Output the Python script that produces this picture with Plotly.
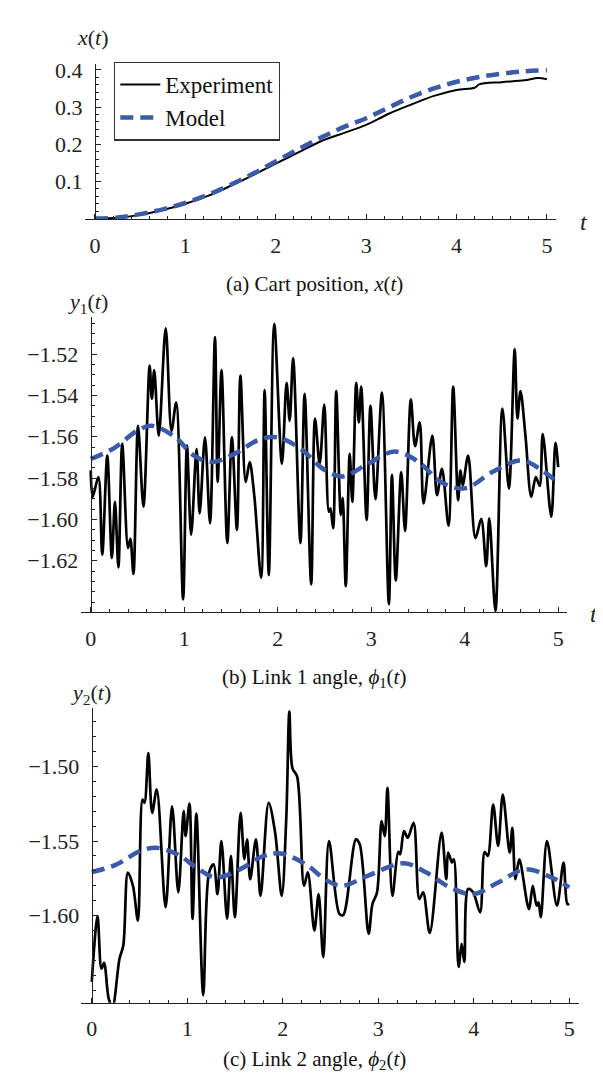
import plotly.graph_objects as go

# ---------------- data ----------------
# (a) cart position
t_a = [0, 0.25, 0.5, 0.75, 1.0, 1.25, 1.5, 1.75, 2.0, 2.25, 2.5, 2.75, 3.0,
       3.25, 3.5, 3.75, 4.0, 4.2, 4.25, 4.5, 4.75, 4.9, 5.0]
exp_a = [0.000, 0.002, 0.010, 0.023, 0.040, 0.061, 0.088, 0.117, 0.148, 0.178,
         0.208, 0.230, 0.252, 0.282, 0.307, 0.330, 0.346, 0.352, 0.361, 0.367,
         0.372, 0.378, 0.375]
tm_a = [0, 0.25, 0.5, 0.75, 1.0, 1.25, 1.5, 1.75, 2.0, 2.25, 2.5, 2.75, 3.0,
        3.25, 3.5, 3.75, 4.0, 4.25, 4.5, 4.75, 5.0]
model_a = [0.000, 0.003, 0.012, 0.025, 0.042, 0.064, 0.091, 0.121, 0.154, 0.187,
           0.218, 0.246, 0.270, 0.299, 0.327, 0.350, 0.368, 0.381, 0.390, 0.396,
           0.399]

# (b) link 1 angle
t_b = [0.000, 0.021, 0.082, 0.123, 0.177, 0.226, 0.259, 0.296, 0.337, 0.399,
       0.424, 0.457, 0.506, 0.564, 0.630, 0.654, 0.679, 0.728, 0.802, 0.864,
       0.914, 0.988, 1.029, 1.074, 1.132, 1.165, 1.222, 1.276, 1.329, 1.358,
       1.399, 1.461, 1.510, 1.564, 1.601, 1.658, 1.700, 1.749, 1.823, 1.860,
       1.905, 1.963, 2.045, 2.095, 2.128, 2.165, 2.243, 2.288, 2.358, 2.399,
       2.449, 2.498, 2.547, 2.564, 2.593, 2.626, 2.675, 2.695, 2.728, 2.770,
       2.798, 2.840, 2.868, 2.893, 2.951, 2.992, 3.045, 3.115, 3.189, 3.222,
       3.263, 3.321, 3.362, 3.424, 3.469, 3.519, 3.560, 3.654, 3.704, 3.757,
       3.827, 3.877, 3.930, 3.955, 3.979, 4.037, 4.115, 4.177, 4.230, 4.263,
       4.329, 4.403, 4.473, 4.535, 4.564, 4.597, 4.650, 4.712, 4.761, 4.802,
       4.835, 4.926, 4.971, 5.000]
exp_b = [-1.5763, -1.5891, -1.5795, -1.6171, -1.5691, -1.6187, -1.5915, -1.6232,
         -1.5635, -1.6139, -1.6094, -1.6264, -1.5547, -1.5939, -1.5256, -1.5416,
         -1.5278, -1.5595, -1.5075, -1.5571, -1.5435, -1.6387, -1.5643, -1.6075,
         -1.5659, -1.5971, -1.5603, -1.6019, -1.5118, -1.5819, -1.5278, -1.6115,
         -1.5603, -1.6051, -1.5304, -1.5819, -1.5723, -1.5883, -1.6283, -1.5374,
         -1.6270, -1.5054, -1.5731, -1.5339, -1.5523, -1.5219, -1.6115, -1.5392,
         -1.6315, -1.5512, -1.5731, -1.5445, -1.5963, -1.5947, -1.6043, -1.5379,
         -1.5979, -1.5896, -1.6323, -1.5683, -1.5915, -1.5339, -1.5531, -1.5358,
         -1.6003, -1.5451, -1.5902, -1.5387, -1.6411, -1.5784, -1.6296, -1.5771,
         -1.6056, -1.5419, -1.5646, -1.5531, -1.5923, -1.5595, -1.5883, -1.5755,
         -1.6030, -1.5358, -1.5907, -1.5763, -1.5835, -1.5691, -1.6091, -1.5998,
         -1.6227, -1.5995, -1.6443, -1.5464, -1.5851, -1.5176, -1.5512, -1.5379,
         -1.5595, -1.5891, -1.5795, -1.5838, -1.5587, -1.5987, -1.5630, -1.5747]
tm_b = [0, 0.25, 0.5, 0.65, 0.9, 1.1, 1.3, 1.55, 1.8, 2.0, 2.25, 2.5, 2.7,
        2.95, 3.25, 3.5, 3.75, 4.0, 4.3, 4.6, 4.85, 5.0]
model_b = [-1.5708, -1.5655, -1.5570, -1.5547, -1.5600, -1.5690, -1.5722,
           -1.5680, -1.5615, -1.5603, -1.5660, -1.5760, -1.5792, -1.5735,
           -1.5672, -1.5720, -1.5820, -1.5850, -1.5770, -1.5715, -1.5770,
           -1.5824]

# (c) link 2 angle
t_c = [0.000, 0.060, 0.101, 0.129, 0.177, 0.217, 0.290, 0.330, 0.378, 0.431,
       0.483, 0.531, 0.552, 0.592, 0.632, 0.680, 0.773, 0.841, 0.906, 0.962,
       0.982, 1.023, 1.055, 1.095, 1.167, 1.228, 1.276, 1.316, 1.357, 1.417,
       1.457, 1.498, 1.558, 1.598, 1.626, 1.659, 1.719, 1.767, 1.852, 1.920,
       1.989, 2.037, 2.069, 2.101, 2.150, 2.222, 2.262, 2.331, 2.375, 2.424,
       2.484, 2.593, 2.633, 2.766, 2.806, 2.899, 2.939, 2.987, 3.035, 3.068,
       3.096, 3.148, 3.209, 3.229, 3.269, 3.309, 3.370, 3.430, 3.470, 3.539,
       3.663, 3.712, 3.732, 3.772, 3.792, 3.841, 3.873, 3.901, 3.941, 3.994,
       4.066, 4.114, 4.147, 4.203, 4.255, 4.304, 4.376, 4.404, 4.436, 4.477,
       4.577, 4.618, 4.658, 4.678, 4.702, 4.767, 4.871, 4.940, 4.980, 5.000]
exp_c = [-1.6444, -1.6004, -1.6356, -1.6316, -1.6556, -1.6611, -1.6289, -1.6200,
         -1.5711, -1.5800, -1.6033, -1.5222, -1.5244, -1.4911, -1.5311, -1.5156,
         -1.5944, -1.5267, -1.5844, -1.5300, -1.5467, -1.5249, -1.6022, -1.5316,
         -1.6533, -1.5711, -1.5656, -1.5856, -1.5500, -1.6022, -1.5600, -1.6011,
         -1.5311, -1.5622, -1.5489, -1.5756, -1.5489, -1.5867, -1.5244, -1.5444,
         -1.5867, -1.5340, -1.4633, -1.5011, -1.5067, -1.5800, -1.5710, -1.6100,
         -1.5856, -1.6278, -1.5500, -1.5989, -1.5996, -1.5489, -1.5522, -1.6122,
         -1.5922, -1.5844, -1.5367, -1.5467, -1.5144, -1.5867, -1.5573, -1.5589,
         -1.5433, -1.5478, -1.5378, -1.5889, -1.5844, -1.6116, -1.5444, -1.5756,
         -1.5578, -1.5644, -1.5622, -1.6344, -1.6189, -1.6311, -1.5822, -1.5844,
         -1.5978, -1.5573, -1.5600, -1.5256, -1.5533, -1.5189, -1.5578, -1.5411,
         -1.5756, -1.5622, -1.5956, -1.5800, -1.5933, -1.5911, -1.6011, -1.5500,
         -1.5933, -1.5644, -1.5922, -1.5922]
tm_c = [0, 0.25, 0.5, 0.67, 0.9, 1.1, 1.3, 1.55, 1.8, 1.98, 2.25, 2.45, 2.62,
        2.9, 3.27, 3.5, 3.75, 3.99, 4.25, 4.54, 4.8, 5.0]
model_c = [-1.5708, -1.5660, -1.5570, -1.5545, -1.5590, -1.5680, -1.5744,
           -1.5690, -1.5600, -1.5584, -1.5660, -1.5760, -1.5800, -1.5730,
           -1.5649, -1.5710, -1.5810, -1.5856, -1.5780, -1.5689, -1.5740,
           -1.5811]

x_ticks = [0, 1, 2, 3, 4, 5]
x_ticktext = ["0", "1", "2", "3", "4", "5"]
ya_ticks = [0.1, 0.2, 0.3, 0.4]
ya_text = ["0.1", "0.2", "0.3", "0.4"]
yb_ticks = [-1.52, -1.54, -1.56, -1.58, -1.60, -1.62]
yb_text = ["\u22121.52", "\u22121.54", "\u22121.56", "\u22121.58", "\u22121.60", "\u22121.62"]
yc_ticks = [-1.50, -1.55, -1.60]
yc_text = ["\u22121.50", "\u22121.55", "\u22121.60"]

captions = ["(a) Cart position, <i>x</i>(<i>t</i>)",
            "(b) Link 1 angle, <i>\u03d5</i><sub>1</sub>(<i>t</i>)",
            "(c) Link 2 angle, <i>\u03d5</i><sub>2</sub>(<i>t</i>)"]
ylabels = ["<i>x</i>(<i>t</i>)", "<i>y</i><sub>1</sub>(<i>t</i>)",
           "<i>y</i><sub>2</sub>(<i>t</i>)"]

# ---------------- layout helpers ----------------
W, H = 603, 1074
FONT = "Liberation Serif, Times New Roman, serif"
EXP_COLOR = "#000000"
MOD_COLOR = "#3b5ba9"
AX_COLOR = "#222222"


def px(x):
    return x / W


def py(y):
    return 1 - y / H


# panel geometry in pixels: x-axis extent, y-axis x position, y extent
panels = [
    dict(x0=77, x1=548, yax=87.0, y0=50, y1=206.5, xr=[-0.11, 5.10],
         yr=[-0.002, 0.4166], ticks=ya_ticks, text=ya_text, minor=0.02),
    dict(x0=73, x1=558.5, yax=82.7, y0=305, y1=601.7, xr=[-0.104, 5.089],
         yr=[-1.6450, -1.5022], ticks=yb_ticks, text=yb_text, minor=0.005),
    dict(x0=73, x1=571, yax=83.8, y0=698.3, y1=994.3, xr=[-0.113, 5.102],
         yr=[-1.6584, -1.4611], ticks=yc_ticks, text=yc_text, minor=0.01),
]

fig = go.Figure()

series = [(t_a, exp_a, tm_a, model_a, 2.0),
          (t_b, exp_b, tm_b, model_b, 2.7),
          (t_c, exp_c, tm_c, model_c, 2.7)]

for i, (te, ye, tm, ym, lw) in enumerate(series):
    xa = "x" if i == 0 else f"x{i+1}"
    ya = "y" if i == 0 else f"y{i+1}"
    fig.add_trace(go.Scatter(x=te, y=ye, mode="lines", name="Experiment",
                             line=dict(color=EXP_COLOR, width=lw, shape="spline", smoothing=0.9),
                             showlegend=(i == 0), xaxis=xa, yaxis=ya))
    fig.add_trace(go.Scatter(x=tm, y=ym, mode="lines", name="Model",
                             line=dict(color=MOD_COLOR, width=4.5, dash="13px,7px",
                                       shape="spline", smoothing=1.0),
                             showlegend=(i == 0), xaxis=xa, yaxis=ya))

layout = dict(
    width=W, height=H, margin=dict(l=0, r=0, t=0, b=0),
    paper_bgcolor="white", plot_bgcolor="white",
    font=dict(family=FONT, size=22, color="#111"),
    showlegend=True,
    legend=dict(x=px(106), y=py(48), xanchor="left", yanchor="top",
                bgcolor="white", bordercolor="#333", borderwidth=1.3,
                font=dict(family=FONT, size=23, color="#111"),
                itemwidth=40, tracegroupgap=0),
)

annotations = []
caption_y = [272, 668, 1052]
label_pos = [(85, 24), (80, 291), (83, 684)]
t_pos = [(576, 209), (586, 603), (592, 997)]

for i, p in enumerate(panels):
    xk = "xaxis" if i == 0 else f"xaxis{i+1}"
    yk = "yaxis" if i == 0 else f"yaxis{i+1}"
    ya_id = "y" if i == 0 else f"y{i+1}"
    layout[xk] = dict(
        domain=[px(p["x0"]), px(p["x1"])], range=p["xr"], anchor=ya_id,
        showgrid=False, zeroline=False, showline=True, linecolor=AX_COLOR, linewidth=1.2,
        ticks="inside", ticklen=5, tickwidth=1, tickcolor=AX_COLOR,
        tickvals=x_ticks, ticktext=x_ticktext, ticklabelstandoff=6,
        tickfont=dict(family=FONT, size=22, color="#222"),
        minor=dict(dtick=0.2, tick0=0, ticks="inside", ticklen=3, tickwidth=0.8,
                   tickcolor=AX_COLOR, showgrid=False),
    )
    layout[yk] = dict(
        domain=[py(p["y1"]), py(p["y0"])], range=p["yr"], anchor="free",
        position=px(p["yax"]),
        showgrid=False, zeroline=False, showline=True, linecolor=AX_COLOR, linewidth=1.2,
        ticks="inside", ticklen=5, tickwidth=1, tickcolor=AX_COLOR,
        tickvals=p["ticks"], ticktext=p["text"], ticklabelstandoff=8,
        tickfont=dict(family=FONT, size=22, color="#222"),
        minor=dict(dtick=p["minor"], tick0=0, ticks="inside", ticklen=3, tickwidth=0.8,
                   tickcolor=AX_COLOR, showgrid=False),
    )
    annotations.append(dict(text=captions[i], x=px(306), y=py(caption_y[i]),
                            xref="paper", yref="paper", showarrow=False,
                            xanchor="center", yanchor="middle",
                            font=dict(family=FONT, size=21, color="#111")))
    lx, ly = label_pos[i]
    annotations.append(dict(text=ylabels[i], x=px(lx), y=py(ly),
                            xref="paper", yref="paper", showarrow=False,
                            xanchor="center", yanchor="middle",
                            font=dict(family=FONT, size=22, color="#222")))
    tx, ty = t_pos[i]
    annotations.append(dict(text="<i>t</i>", x=px(tx), y=py(ty),
                            xref="paper", yref="paper", showarrow=False,
                            xanchor="center", yanchor="middle",
                            font=dict(family=FONT, size=24, color="#222")))

layout["annotations"] = annotations
fig.update_layout(**layout)
fig.write_html("out.html")
